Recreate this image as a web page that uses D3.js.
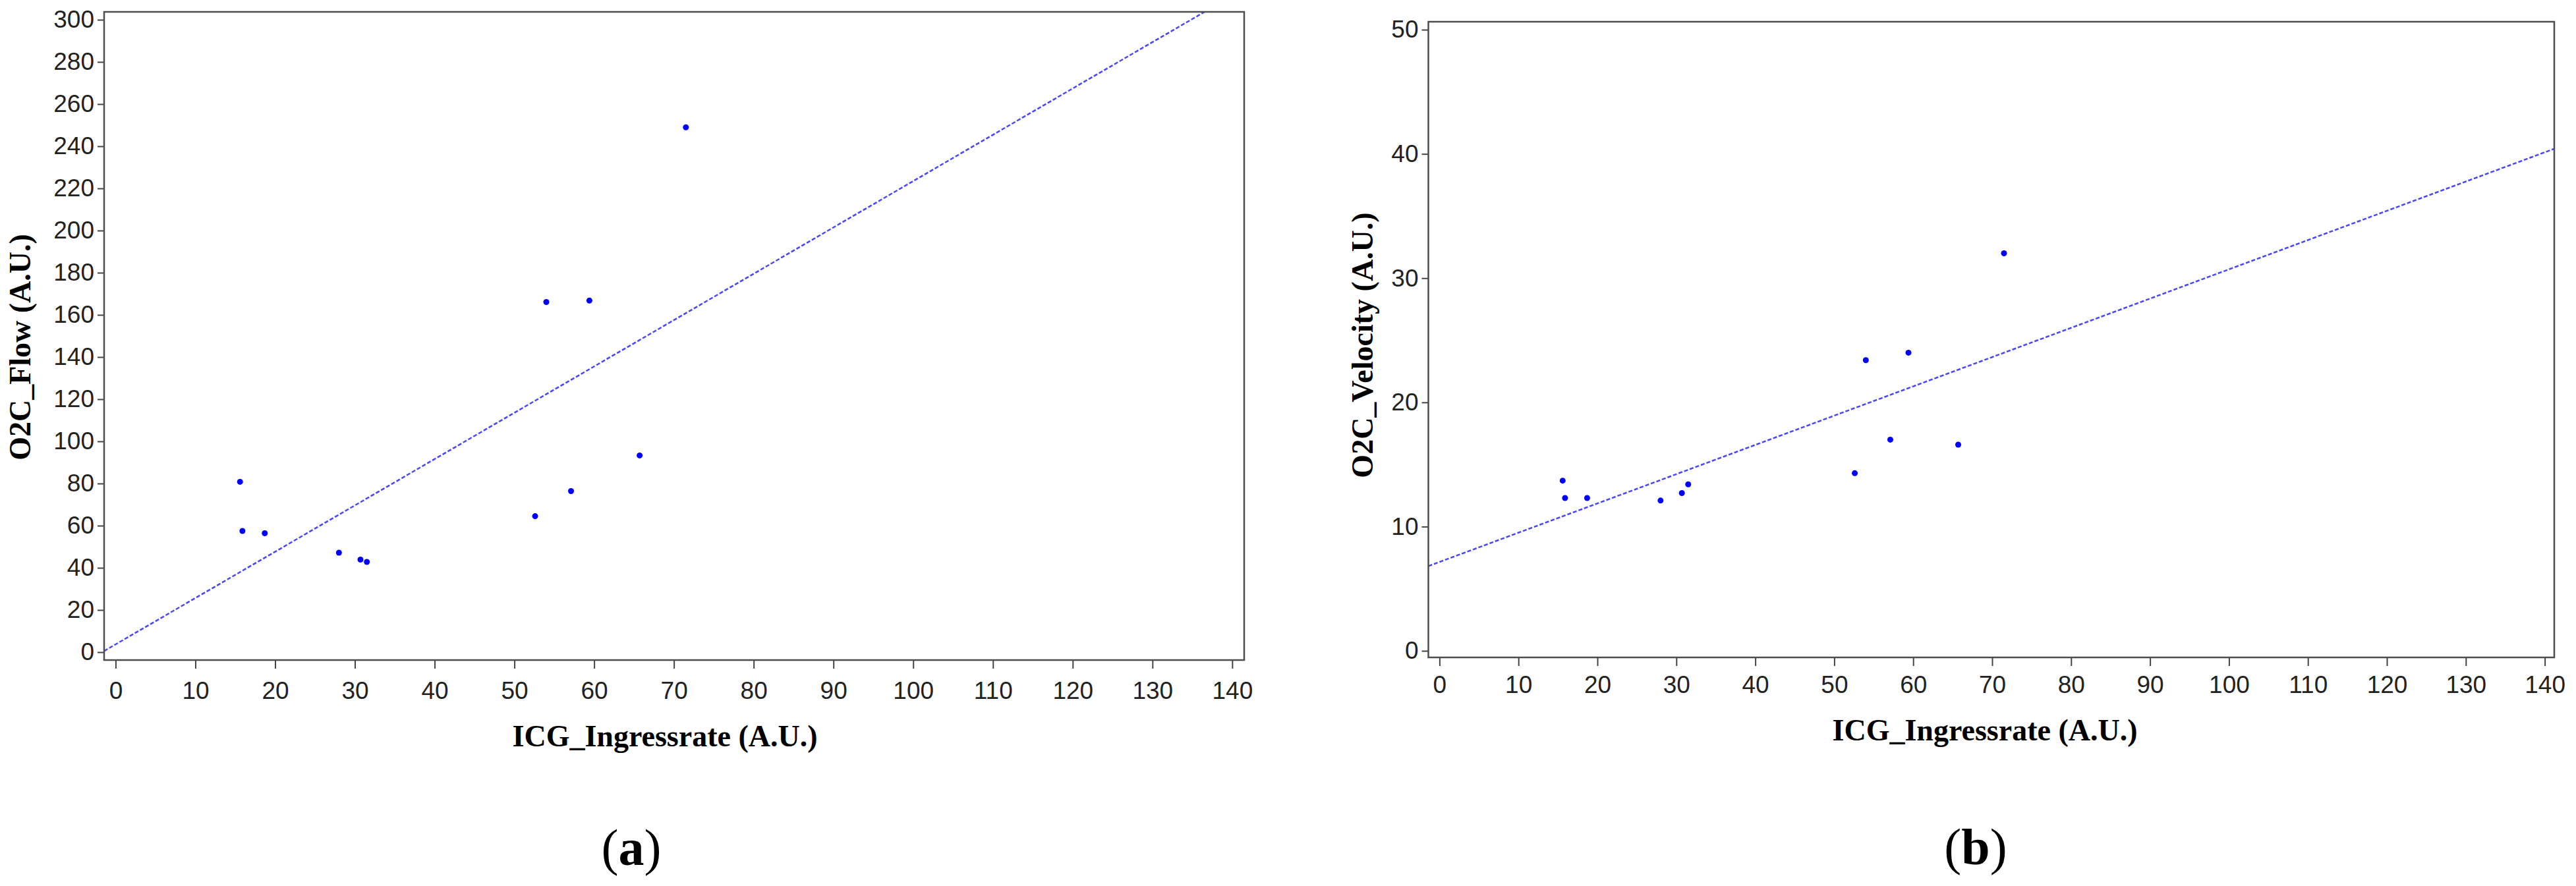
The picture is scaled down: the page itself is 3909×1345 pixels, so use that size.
<!DOCTYPE html>
<html>
<head>
<meta charset="utf-8">
<script src="https://cdn.jsdelivr.net/npm/d3@7"></script>
<style>
  body { margin: 0; background: #fff; }
  .tick text { font-family: "Liberation Sans Narrow", "Liberation Sans", sans-serif; font-size: 37px; fill: #222; }
  .tick line { stroke: #444; stroke-width: 2; }
  .axis-title { font-family: "Liberation Serif", "Times New Roman", serif; font-weight: bold; font-size: 46px; fill: #000; }
  .caption { font-family: "Liberation Serif", "Times New Roman", serif; font-size: 78px; fill: #000; }
</style>
</head>
<body>
<svg id="chart" width="3909" height="1345"></svg>
<script>
// Datos (12 sujetos)
const icgIngressrate = [15.6, 15.9, 18.7, 28.0, 30.7, 31.5, 52.6, 54.0, 57.1, 59.4, 65.7, 71.5];
const o2cFlow        = [80.8, 57.5, 56.4, 47.2, 43.9, 42.8, 64.5, 166.1, 76.4, 166.8, 93.3, 249.0];
const o2cVelocity    = [13.7, 12.3, 12.3, 12.1, 12.7, 13.4, 14.3, 23.4, 17.0, 24.0, 16.6, 32.0];

// Etiquetas de los ejes
const xTicks        = [0, 10, 20, 30, 40, 50, 60, 70, 80, 90, 100, 110, 120, 130, 140];
const flowTicks     = [0, 20, 40, 60, 80, 100, 120, 140, 160, 180, 200, 220, 240, 260, 280, 300];
const velocityTicks = [0, 10, 20, 30, 40, 50];

const svg = d3.select("#chart");

// Recta de minimos cuadrados
function fit(xs, ys) {
  const mx = d3.mean(xs), my = d3.mean(ys);
  const b = d3.sum(xs, (x, i) => (x - mx) * (ys[i] - my)) / d3.sum(xs, x => (x - mx) * (x - mx));
  return { a: my - b * mx, b: b };
}

function drawPanel(p) {
  const x = d3.scaleLinear().domain(p.xDomain).range([p.left, p.right]);
  const y = d3.scaleLinear().domain(p.yDomain).range([p.bottom, p.top]);
  const g = svg.append("g");

  // Clip para la recta
  g.append("clipPath").attr("id", "clip-" + p.id)
    .append("rect")
    .attr("x", p.left).attr("y", p.top)
    .attr("width", p.right - p.left).attr("height", p.bottom - p.top);

  // Eje X
  const xAxis = g.append("g")
    .attr("transform", "translate(0," + p.bottom + ")")
    .call(d3.axisBottom(x).tickValues(xTicks).tickSize(13).tickPadding(p.xPad));
  xAxis.select(".domain").remove();

  // Eje Y
  const yAxis = g.append("g")
    .attr("transform", "translate(" + p.left + ",0)")
    .call(d3.axisLeft(y).tickValues(p.yTicks).tickSize(10).tickPadding(5));
  yAxis.select(".domain").remove();

  // Recta de regresion
  const r = fit(icgIngressrate, p.values);
  g.append("path")
    .datum(p.xDomain)
    .attr("clip-path", "url(#clip-" + p.id + ")")
    .attr("fill", "none")
    .attr("stroke", "#4646ff")
    .attr("stroke-width", 2.5)
    .attr("stroke-dasharray", "6,3")
    .attr("d", d3.line().x(d => x(d)).y(d => y(r.a + r.b * d)));

  // Puntos
  g.selectAll(".dot")
    .data(icgIngressrate)
    .enter().append("circle")
    .attr("cx", d => x(d))
    .attr("cy", (d, i) => y(p.values[i]))
    .attr("r", 4.5)
    .attr("fill", "#0000ff");

  // Marco
  g.append("rect")
    .attr("x", p.left).attr("y", p.top)
    .attr("width", p.right - p.left).attr("height", p.bottom - p.top)
    .attr("fill", "none").attr("stroke", "#4d4d4d").attr("stroke-width", 2.5);

  // Titulos
  g.append("text").attr("class", "axis-title")
    .attr("x", p.xTitle[0]).attr("y", p.xTitle[1])
    .attr("text-anchor", "middle")
    .text("ICG_Ingressrate (A.U.)");

  g.append("text").attr("class", "axis-title")
    .attr("transform", "translate(" + p.yTitle[0] + "," + p.yTitle[1] + ") rotate(-90)")
    .attr("text-anchor", "middle")
    .text(p.yLabel);

  const cap = g.append("text").attr("class", "caption")
    .attr("x", p.caption[0]).attr("y", p.caption[1])
    .attr("text-anchor", "middle");
  cap.append("tspan").text("(");
  cap.append("tspan").attr("font-weight", "bold").text(p.letter);
  cap.append("tspan").text(")");
}

drawPanel({
  id: "a", letter: "a", yLabel: "O2C_Flow (A.U.)", values: o2cFlow, yTicks: flowTicks,
  left: 158, right: 1888, top: 18, bottom: 1002,
  xDomain: [-1.44, 141.5], yDomain: [-3.75, 303.75], xPad: 20,
  xTitle: [1009, 1133], yTitle: [46, 527], caption: [958, 1313]
});

drawPanel({
  id: "b", letter: "b", yLabel: "O2C_Velocity (A.U.)", values: o2cVelocity, yTicks: velocityTicks,
  left: 2167.5, right: 3876, top: 33, bottom: 998,
  xDomain: [-1.41, 141.2], yDomain: [-0.53, 50.64], xPad: 15,
  xTitle: [3012, 1124], yTitle: [2083, 524], caption: [2998, 1312]
});
</script>
</body>
</html>
